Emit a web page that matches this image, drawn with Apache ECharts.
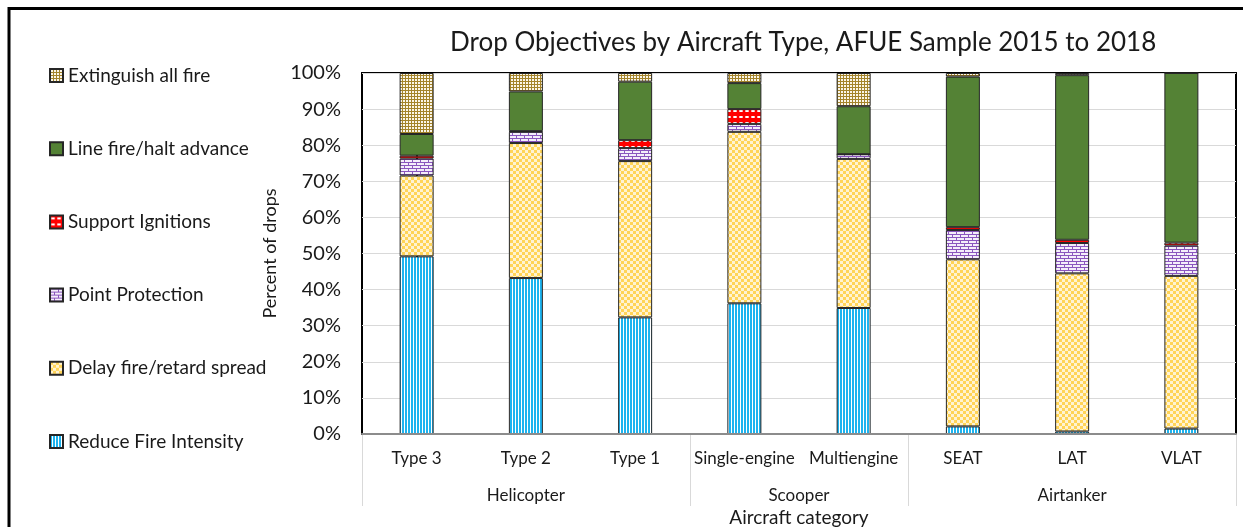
<!DOCTYPE html>
<html>
<head>
<meta charset="utf-8">
<script src="https://cdn.jsdelivr.net/npm/echarts@6/dist/echarts.min.js"></script>
<style>
html,body{margin:0;padding:0;background:#fff;}
#chart{width:1243px;height:527px;}
</style>
</head>
<body>
<div id="chart"></div>
<script>
const categories = ['Type 3','Type 2','Type 1','Single-engine','Multiengine','SEAT','LAT','VLAT'];
const groupLabels = ['Helicopter','Scooper','Airtanker'];
const groupCenters = [1, 3.5, 6];
const groupBounds = [-0.5, 2.5, 4.5, 7.5];
const yTicks = [0,10,20,30,40,50,60,70,80,90,100];

const reduceIntensity = [49.2, 43.2, 32.3, 36.2, 34.9, 2.1, 0.7, 1.5];
const delaySpread     = [22.4, 37.4, 43.3, 47.5, 41.3, 46.3, 43.8, 42.3];
const pointProtection = [4.7, 3.1, 3.6, 2.2, 1.3, 8.1, 8.4, 8.4];
const supportIgnition = [0.8, 0.2, 2.2, 4.1, 0.0, 0.8, 0.9, 0.8];
const lineFire        = [6.0, 11.0, 16.2, 7.2, 13.3, 41.7, 45.6, 47.0];
const extinguish      = [16.9, 5.1, 2.4, 2.8, 9.2, 1.0, 0.6, 0.0];

const FONT = 'Lato';

function pat(w, h, draw) {
  const c = document.createElement('canvas');
  c.width = w; c.height = h;
  const g = c.getContext('2d');
  draw(g);
  return { image: c, repeat: 'repeat' };
}
const pBlue = pat(3, 1, g => { g.fillStyle = '#fff'; g.fillRect(0,0,3,1); g.fillStyle = '#1CB3EF'; g.fillRect(0,0,2,1); });
const pYellow = pat(6, 6, g => { g.fillStyle = '#FFF3D2'; g.fillRect(0,0,6,6); g.fillStyle = '#FFD457'; g.fillRect(0,0,3,3); g.fillRect(3,3,3,3); });
const pPurple = pat(8, 6, g => { g.fillStyle = '#F4EEFA'; g.fillRect(0,0,8,6); g.fillStyle = '#8A56BE'; g.fillRect(0,0,8,1); g.fillRect(0,3,8,1); g.fillRect(0,0,1,3); g.fillRect(4,3,1,3); });
const pRed = pat(6, 6, g => { g.fillStyle = '#FF0000'; g.fillRect(0,0,6,6); g.fillStyle = '#FFFFFF'; g.fillRect(2,2,2,2); g.fillStyle = '#FFB0B0'; g.fillRect(1,2,1,2); g.fillRect(4,2,1,2); });
const cGreen = '#548235';
const pGrid = pat(3, 3, g => { g.fillStyle = '#FBF6E8'; g.fillRect(0,0,3,3); g.fillStyle = '#A4842A'; g.fillRect(0,0,3,1); g.fillRect(0,0,1,3); });

function barSeries(name, data, color) {
  return {
    name: name, type: 'bar', stack: 'total', data: data,
    barWidth: 34, xAxisIndex: 0, yAxisIndex: 0,
    itemStyle: { color: color, borderColor: '#262626', borderWidth: 1 },
    emphasis: { disabled: true }
  };
}

const chart = echarts.init(document.getElementById('chart'), null, { renderer: 'canvas' });
chart.setOption({
  animation: false,
  backgroundColor: '#fff',
  textStyle: { fontFamily: FONT },
  title: {
    text: 'Drop Objectives by Aircraft Type, AFUE Sample 2015 to 2018',
    left: 450, top: 30, padding: 0,
    textStyle: { fontFamily: FONT, fontSize: 26, fontWeight: 'normal', color: '#1a1a1a' }
  },
  graphic: [{
    type: 'rect', silent: true, z: 100,
    shape: { x: 9, y: 8.5, width: 1400, height: 700 },
    style: { fill: 'none', stroke: '#000', lineWidth: 3 }
  }],
  legend: {
    orient: 'vertical', left: 49, top: 66, padding: 0,
    icon: 'rect',
    itemWidth: 13, itemHeight: 13, itemGap: 54.2,
    data: ['Extinguish all fire','Line fire/halt advance','Support Ignitions','Point Protection','Delay fire/retard spread','Reduce Fire Intensity'],
    textStyle: { fontFamily: FONT, fontSize: 19, color: '#1a1a1a', lineHeight: 19 },
    selectedMode: false
  },
  grid: { left: 362, right: 7, top: 73, bottom: 93, outerBoundsMode: 'none', containLabel: false, show: true, borderColor: '#000', borderWidth: 2, backgroundColor: 'transparent' },
  xAxis: [{
    type: 'category', data: categories, position: 'bottom', z: 5,
    axisLine: { lineStyle: { color: '#8c8c8c', width: 2 } },
    axisTick: { show: false },
    axisLabel: { fontFamily: FONT, fontSize: 17, color: '#1a1a1a', margin: 16, interval: 0 },
    name: 'Aircraft category', nameLocation: 'middle', nameGap: 74,
    nameTextStyle: { fontFamily: FONT, fontSize: 19, color: '#1a1a1a' }
  }, {
    type: 'value', min: -0.5, max: 7.5, position: 'bottom', z: 4,
    axisLine: { show: false },
    splitLine: { show: false },
    axisTick: { show: true, customValues: groupBounds, length: 72, lineStyle: { color: '#d9d9d9', width: 1 } },
    axisLabel: {
      customValues: groupCenters, fontFamily: FONT, fontSize: 17, color: '#1a1a1a', margin: 53,
      formatter: v => { const i = groupCenters.indexOf(v); return i >= 0 ? groupLabels[i] : ''; }
    }
  }],
  yAxis: [{
    type: 'value', min: 0, max: 100, interval: 10,
    axisLine: { show: true, lineStyle: { color: '#000', width: 2 } },
    axisTick: { show: false },
    splitLine: { lineStyle: { color: '#d9d9d9', width: 1 } },
    axisLabel: { fontFamily: FONT, fontSize: 20, color: '#1a1a1a', margin: 21, formatter: '{value}%' },
    name: 'Percent of drops', nameLocation: 'middle', nameGap: 77, nameRotate: 90,
    nameTextStyle: { fontFamily: FONT, fontSize: 18, color: '#1a1a1a' }
  }],
  series: [
    barSeries('Reduce Fire Intensity', reduceIntensity, pBlue),
    barSeries('Delay fire/retard spread', delaySpread, pYellow),
    barSeries('Point Protection', pointProtection, pPurple),
    barSeries('Support Ignitions', supportIgnition, pRed),
    barSeries('Line fire/halt advance', lineFire, cGreen),
    barSeries('Extinguish all fire', extinguish, pGrid)
  ]
});
</script>
</body>
</html>
